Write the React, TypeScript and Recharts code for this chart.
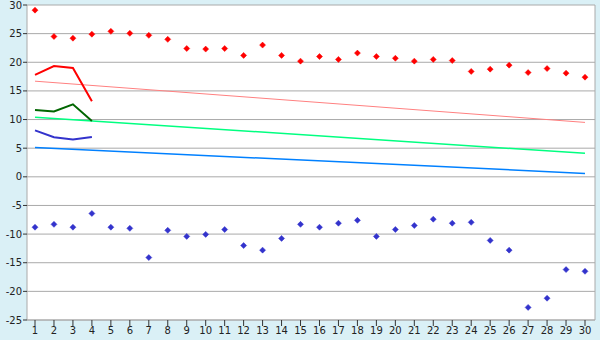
import React from "react";
import { ComposedChart, Line, XAxis, YAxis, CartesianGrid } from "recharts";

const days = [1,2,3,4,5,6,7,8,9,10,11,12,13,14,15,16,17,18,19,20,21,22,23,24,25,26,27,28,29,30];
const maxPoints = [29.1,24.5,24.2,24.9,25.4,25.05,24.7,24.0,22.4,22.3,22.4,21.2,23.0,21.2,20.2,21.0,20.5,21.6,21.0,20.7,20.2,20.5,20.3,18.4,18.8,19.5,18.2,18.9,18.1,17.4];
const minPoints = [-8.8,-8.3,-8.8,-6.4,-8.8,-9.0,-14.1,-9.35,-10.4,-10.05,-9.2,-12.0,-12.8,-10.75,-8.3,-8.8,-8.1,-7.6,-10.4,-9.2,-8.5,-7.4,-8.1,-7.95,-11.1,-12.8,-22.8,-21.2,-16.2,-16.5];
const maxLine = [17.8,19.35,19.0,13.2];
const meanLine = [11.65,11.4,12.65,9.75];
const minLine = [8.1,6.9,6.5,6.95];
// trend lines: value at first day and last day
const maxTrend = [16.7, 9.5];
const meanTrend = [10.4, 4.1];
const minTrend = [5.1, 0.6];
const yTicks = [-25,-20,-15,-10,-5,0,5,10,15,20,25,30];

const last = days.length - 1;
const data = days.map((d, i) => ({
  day: d,
  maxP: maxPoints[i],
  minP: minPoints[i],
  maxL: i < maxLine.length ? maxLine[i] : null,
  meanL: i < meanLine.length ? meanLine[i] : null,
  minL: i < minLine.length ? minLine[i] : null,
  maxT: i === 0 ? maxTrend[0] : i === last ? maxTrend[1] : null,
  meanT: i === 0 ? meanTrend[0] : i === last ? meanTrend[1] : null,
  minT: i === 0 ? minTrend[0] : i === last ? minTrend[1] : null,
}));

const Diamond = (color: string) => (props: any) => {
  const { cx, cy, index } = props;
  if (cx == null || cy == null) return <g key={index} />;
  const r = 3;
  return (
    <path
      key={index}
      d={`M${cx},${cy - r}L${cx + r},${cy}L${cx},${cy + r}L${cx - r},${cy}Z`}
      fill={color}
      stroke={color}
      strokeWidth={0.5}
    />
  );
};

const tickStyle = { fontFamily: "DejaVu Sans", fontSize: 10, fill: "#222" };

export default function App() {
  return (
    <div style={{ position: "absolute", left: 0, top: 0, width: 600, height: 340, background: "#daf0f6" }}>
      <ComposedChart width={600} height={340} data={data} margin={{ top: 5, right: 5, bottom: 0, left: 0 }}>
        <CartesianGrid
          fill="#ffffff"
          stroke="#aaaaaa"
          vertical={true}
          verticalPoints={[595]}
          horizontalValues={yTicks}
        />
        <XAxis
          dataKey="day"
          type="number"
          domain={[0.578, 30.527]}
          ticks={days}
          interval={0}
          allowDataOverflow
          height={20}
          tickSize={6}
          tickMargin={1}
          stroke="#aaaaaa"
          tick={tickStyle}
          tickLine={{ stroke: "#333" }}
        />
        <YAxis
          type="number"
          domain={[-25, 30]}
          ticks={yTicks}
          interval={0}
          width={27}
          tickSize={4}
          tickMargin={1}
          stroke="#aaaaaa"
          tick={tickStyle}
          tickLine={{ stroke: "#333" }}
        />
        <Line dataKey="maxT" stroke="#ff8080" strokeWidth={1} dot={false} connectNulls isAnimationActive={false} />
        <Line dataKey="meanT" stroke="#00ff80" strokeWidth={1.5} dot={false} connectNulls isAnimationActive={false} />
        <Line dataKey="minT" stroke="#0080ff" strokeWidth={1.5} dot={false} connectNulls isAnimationActive={false} />
        <Line dataKey="maxL" stroke="#ff0000" strokeWidth={2} dot={false} isAnimationActive={false} />
        <Line dataKey="meanL" stroke="#006600" strokeWidth={2} dot={false} isAnimationActive={false} />
        <Line dataKey="minL" stroke="#3333cc" strokeWidth={2} dot={false} isAnimationActive={false} />
        <Line dataKey="maxP" stroke="none" dot={Diamond("#ff0000")} activeDot={false} isAnimationActive={false} />
        <Line dataKey="minP" stroke="none" dot={Diamond("#3333cc")} activeDot={false} isAnimationActive={false} />
      </ComposedChart>
    </div>
  );
}
